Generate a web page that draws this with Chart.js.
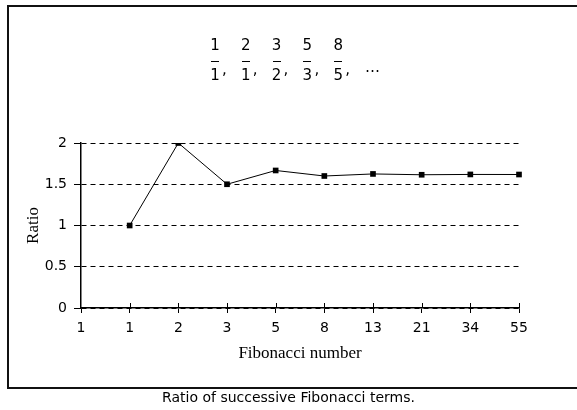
<!DOCTYPE html>
<html>
<head>
<meta charset="utf-8">
<script src="https://cdn.jsdelivr.net/npm/chart.js@4/dist/chart.umd.min.js"></script>
<style>
  html, body { margin: 0; padding: 0; background: #fff; }
  #wrap { position: relative; width: 577px; height: 410px; overflow: hidden; }
  #frame { position: absolute; left: 7px; top: 5px; width: 600px; height: 384px;
           border: 2px solid #111; border-right: none; box-sizing: border-box; }
  #c { position: absolute; left: 0; top: 0; }
  #frac { position: absolute; top: 37px; left: 209px; display: flex; font-family: "DejaVu Sans", sans-serif;
          font-size: 15px; color: #000; }
  .item { display: flex; align-items: flex-start; width: 30.8px; }
  .f { display: flex; flex-direction: column; align-items: center; width: 12px; }
  .num, .den { line-height: 16px; height: 16px; }
  .bar { width: 8px; height: 1px; background: #000; margin-top: 8px; }
  .den { margin-top: 5px; }
  .comma { margin-top: 24px; line-height: 16px; margin-left: 1px; }
  .dots { margin-top: 22px; line-height: 16px; margin-left: 2px; }
  #cap { position: absolute; top: 389px; left: 0; width: 577px; text-align: center;
         font-family: "DejaVu Sans", sans-serif; font-size: 14px; color: #000; }
</style>
</head>
<body>
<div id="wrap">
  <div id="frame"></div>
  <canvas id="c" width="577" height="410"></canvas>
  <div id="frac"></div>
  <div id="cap">Ratio of successive Fibonacci terms.</div>
</div>
<script>
// ---- data ----
const xLabels = ['1', '1', '2', '3', '5', '8', '13', '21', '34', '55'];
const ratios = [null, 1, 2, 1.5, 1.667, 1.6, 1.625, 1.615, 1.619, 1.618];
const yMin = 0;
const yMax = 2;
const yStep = 0.5;
const numerators = ['1', '2', '3', '5', '8'];
const denominators = ['1', '1', '2', '3', '5'];
const xTitle = 'Fibonacci number';
const yTitle = 'Ratio';

// ---- fraction header (real text) ----
const frac = document.getElementById('frac');
numerators.forEach((n, i) => {
  const item = document.createElement('div');
  item.className = 'item';
  const f = document.createElement('div');
  f.className = 'f';
  const num = document.createElement('div'); num.className = 'num'; num.textContent = n;
  const bar = document.createElement('div'); bar.className = 'bar';
  const den = document.createElement('div'); den.className = 'den'; den.textContent = denominators[i];
  f.appendChild(num); f.appendChild(bar); f.appendChild(den);
  const comma = document.createElement('div'); comma.className = 'comma'; comma.textContent = ',';
  item.appendChild(f); item.appendChild(comma);
  frac.appendChild(item);
});
const dots = document.createElement('div');
dots.className = 'dots';
dots.textContent = '\u2026';
frac.appendChild(dots);

// ---- tick marks crossing the x axis (upper half) ----
const innerTicks = {
  id: 'innerTicks',
  afterDraw(chart) {
    const { ctx, chartArea, scales: { x } } = chart;
    ctx.save();
    ctx.strokeStyle = '#000';
    ctx.lineWidth = 1;
    x.ticks.forEach((t, i) => {
      if (i === 0) return;
      const px = Math.round(x.getPixelForTick(i)) + 0.5;
      ctx.beginPath();
      ctx.moveTo(px, chartArea.bottom - 5);
      ctx.lineTo(px, chartArea.bottom);
      ctx.stroke();
    });
    ctx.restore();
  }
};

new Chart(document.getElementById('c'), {
  type: 'line',
  data: {
    labels: xLabels,
    datasets: [{
      data: ratios,
      borderColor: '#000',
      borderWidth: 1,
      backgroundColor: '#000',
      pointStyle: 'rect',
      pointRadius: 4,
      pointBackgroundColor: '#000',
      pointBorderColor: '#000',
      pointBorderWidth: 0,
      tension: 0,
      fill: false
    }]
  },
  options: {
    responsive: false,
    animation: false,
    layout: { padding: { left: 0, top: 143, right: 58, bottom: 0 } },
    plugins: { legend: { display: false }, tooltip: { enabled: false } },
    scales: {
      x: {
        type: 'category',
        offset: false,
        grid: { display: true, drawOnChartArea: false, drawTicks: true, tickLength: 5, color: '#000', lineWidth: 1 },
        border: { display: true, color: '#000', width: 1.5 },
        ticks: { color: '#000', font: { family: 'DejaVu Sans', size: 14 }, padding: 7, maxRotation: 0, autoSkip: false },
        title: { display: true, text: xTitle, color: '#000', font: { family: 'Liberation Serif', size: 17 }, padding: { top: 0, bottom: 46 } },
        afterFit(s) { s.height = 102; }
      },
      y: {
        min: yMin,
        max: yMax,
        grid: { display: true, drawOnChartArea: true, drawTicks: true, tickLength: 7, color: '#000', lineWidth: 1, tickBorderDash: [] },
        border: { display: true, color: '#000', width: 1.5, dash: [5, 4] },
        ticks: { stepSize: yStep, color: '#000', font: { family: 'DejaVu Sans', size: 14 }, padding: 7,
                 callback: (v) => String(v) },
        title: { display: true, text: yTitle, color: '#000', font: { family: 'Liberation Serif', size: 17 }, padding: { top: 23, bottom: 0 } },
        afterFit(s) { s.width = 81; }
      }
    }
  },
  plugins: [innerTicks]
});
</script>
</body>
</html>
